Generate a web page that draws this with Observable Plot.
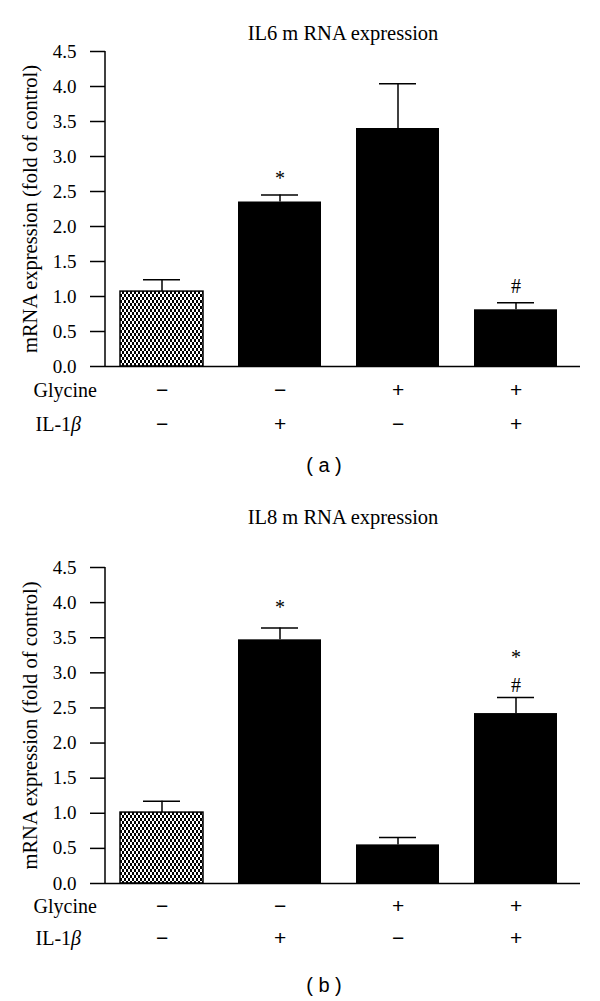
<!DOCTYPE html>
<html>
<head>
<meta charset="utf-8">
<script src="https://cdn.jsdelivr.net/npm/d3@7"></script>
<script src="https://cdn.jsdelivr.net/npm/@observablehq/plot@0.6"></script>
<style>
  html, body { margin: 0; padding: 0; background: #fff; }
  #chart { width: 600px; }
  svg { display: block; }
</style>
</head>
<body>
<div id="chart"></div>
<script>
// ---- data ----
const groups = ["g1", "g2", "g3", "g4"];
const glycineSigns = ["\u2212", "\u2212", "+", "+"];
const il1bSigns = ["\u2212", "+", "\u2212", "+"];
const patterned = [true, false, false, false];

const il6Mean = [1.07, 2.35, 3.40, 0.81];
const il6Err = [0.17, 0.10, 0.64, 0.10];
const il6AnnGroup = ["g2", "g4"];
const il6AnnText = ["*", "#"];
const il6AnnY = [2.69, 1.14];

const il8Mean = [1.01, 3.47, 0.55, 2.42];
const il8Err = [0.16, 0.17, 0.105, 0.23];
const il8AnnGroup = ["g2", "g4", "g4"];
const il8AnnText = ["*", "#", "*"];
const il8AnnY = [3.93, 2.82, 3.22];

const yTicks = [0, 0.5, 1, 1.5, 2, 2.5, 3, 3.5, 4, 4.5];

function panel({id, title, mean, err, annGroup, annText, annY, caption,
                height, marginTop, marginBottom, titleDy, rowDy1, rowDy2, capDy}) {
  const rows = groups.map((g, i) => ({g, mean: mean[i], top: mean[i] + err[i], pat: patterned[i]}));
  const ann = annGroup.map((g, i) => ({g, text: annText[i], y: annY[i]}));
  const patId = "chk-" + id;
  const defs = () => {
    const d = d3.create("svg:defs");
    const p = d.append("pattern").attr("id", patId).attr("width", 4).attr("height", 6)
      .attr("patternUnits", "userSpaceOnUse");
    p.append("rect").attr("width", 4).attr("height", 6).attr("fill", "white");
    p.append("rect").attr("width", 2).attr("height", 3).attr("fill", "black");
    p.append("rect").attr("x", 2).attr("y", 3).attr("width", 2).attr("height", 3).attr("fill", "black");
    return d.node();
  };
  const yAxisLine = (index, scales, values, dims) => {
    const l = d3.create("svg:line")
      .attr("x1", dims.marginLeft).attr("x2", dims.marginLeft)
      .attr("y1", dims.marginTop).attr("y2", dims.height - dims.marginBottom)
      .attr("stroke", "black").attr("stroke-width", 1.5);
    return l.node();
  };
  const serif = "'Liberation Serif', serif";
  const sans = "'Liberation Sans', sans-serif";
  const plot = Plot.plot({
    width: 600,
    height,
    marginLeft: 105,
    marginRight: 20,
    marginTop,
    marginBottom,
    style: {fontFamily: serif, fontSize: "20px", color: "black", background: "white"},
    x: {domain: groups, range: [118, 559], paddingInner: 0.294, paddingOuter: 0, axis: null},
    y: {domain: [0, 4.5], axis: null},
    marks: [
      defs,
      Plot.barY(rows.filter(d => d.pat), {x: "g", y: "mean", fill: `url(#${patId})`, stroke: "black", strokeWidth: 1.5}),
      Plot.barY(rows.filter(d => !d.pat), {x: "g", y: "mean", fill: "black"}),
      Plot.ruleX(rows, {x: "g", y1: "mean", y2: "top", stroke: "black", strokeWidth: 1.5}),
      Plot.tickY(rows, {x: "g", y: "top", stroke: "black", strokeWidth: 1.5, insetLeft: 23, insetRight: 23}),
      Plot.text(ann, {x: "g", y: "y", text: "text", fontSize: 20, fontFamily: serif}),
      Plot.axisY({ticks: yTicks, tickFormat: d3.format(".1f"), tickSize: 15, tickPadding: 14, strokeWidth: 1.5, fontSize: 19, fontFamily: serif, label: null}),
      yAxisLine,
      Plot.ruleY([0], {stroke: "black", strokeWidth: 1.5}),
      Plot.text([title], {frameAnchor: "top", lineAnchor: "middle", dy: titleDy, fontSize: 20.5, fontFamily: serif}),
      Plot.text(["mRNA expression (fold of control)"], {frameAnchor: "left", textAnchor: "middle", lineAnchor: "middle", rotate: -90, dx: -75, fontSize: 20.5, fontFamily: serif}),
      Plot.text(["Glycine"], {frameAnchor: "bottom-left", textAnchor: "start", lineAnchor: "middle", dx: -72, dy: rowDy1, fontSize: 20, fontFamily: serif}),
      Plot.text(["IL-1\u03b2"], {frameAnchor: "bottom-left", textAnchor: "start", lineAnchor: "middle", dx: -70, dy: rowDy2, fontSize: 20, fontFamily: serif}),
      Plot.text(groups, {x: d => d, text: (d, i) => glycineSigns[i], frameAnchor: "bottom", lineAnchor: "middle", dy: rowDy1, fontFamily: sans, fontSize: 21}),
      Plot.text(groups, {x: d => d, text: (d, i) => il1bSigns[i], frameAnchor: "bottom", lineAnchor: "middle", dy: rowDy2, fontFamily: sans, fontSize: 21}),
      Plot.text([caption], {frameAnchor: "bottom", lineAnchor: "middle", dx: -19, dy: capDy, fontFamily: sans, fontSize: 20})
    ]
  });
  plot.querySelectorAll("text").forEach(t => {
    if (t.textContent === "IL-1\u03b2") t.innerHTML = 'IL-1<tspan font-style="italic">\u03b2</tspan>';
  });
  return plot;
}

const chart = document.getElementById("chart");
chart.appendChild(panel({
  id: "a", title: "IL6 m RNA expression", mean: il6Mean, err: il6Err,
  annGroup: il6AnnGroup, annText: il6AnnText, annY: il6AnnY, caption: "( a )",
  height: 500, marginTop: 51, marginBottom: 134, titleDy: -18, rowDy1: 24, rowDy2: 58, capDy: 99
}));
chart.appendChild(panel({
  id: "b", title: "IL8 m RNA expression", mean: il8Mean, err: il8Err,
  annGroup: il8AnnGroup, annText: il8AnnText, annY: il8AnnY, caption: "( b )",
  height: 501, marginTop: 67, marginBottom: 118, titleDy: -50, rowDy1: 23, rowDy2: 55, capDy: 102
}));
</script>
</body>
</html>
